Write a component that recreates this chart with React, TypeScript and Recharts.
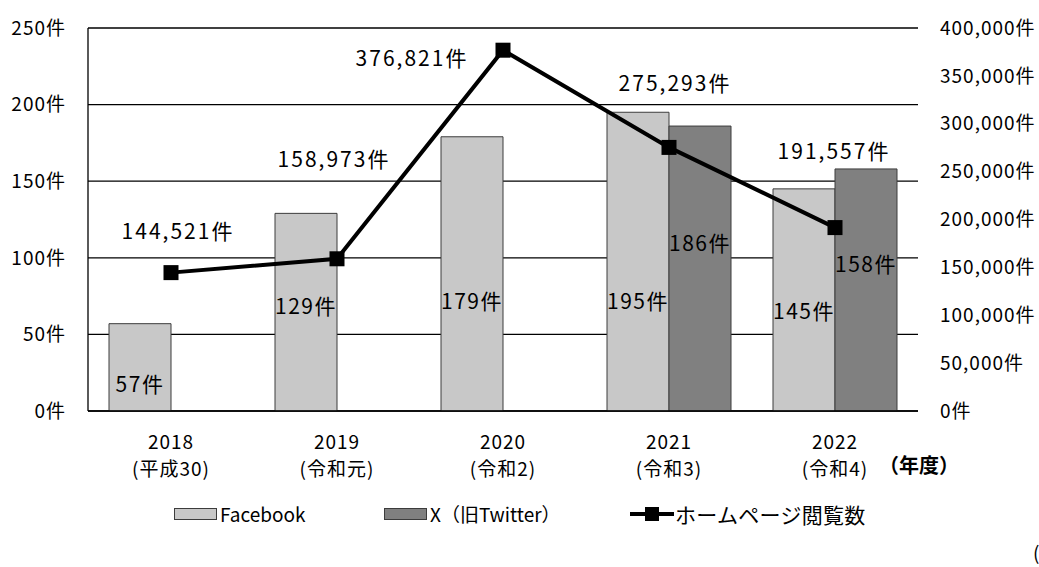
import React from 'react';
import {
  ComposedChart,
  Bar,
  Line,
  XAxis,
  YAxis,
  CartesianGrid,
  LabelList,
} from 'recharts';

// 年度
const years = ['2018', '2019', '2020', '2021', '2022'];
const eras = ['(平成30)', '(令和元)', '(令和2)', '(令和3)', '(令和4)'];

// 投稿件数
const facebook = [57, 129, 179, 195, 145];
const xTwitter = [null, null, null, 186, 158];

// ホームページ閲覧数
const pageViews = [144521, 158973, 376821, 275293, 191557];

const leftTicks = [0, 50, 100, 150, 200, 250];
const rightTicks = [0, 50000, 100000, 150000, 200000, 250000, 300000, 350000, 400000];

const FONT = "'Noto Sans CJK JP', 'Noto Sans', sans-serif";
const FB_FILL = '#c8c8c8';
const X_FILL = '#808080';
const BAR_STROKE = '#3c3c3c';

// label nudges (px) relative to the default anchor, per year
const fbLabelDy = [16, -7, 26, 38, 10];
const xLabelDy = [0, 0, 0, -27, -27];
const lineLabelDx = [7, -3, -91, 6, -1];
const lineLabelDy = [-43, -101, 7, -65, -78];

const chartData = years.map((year, i) => ({
  year,
  era: eras[i],
  facebook: facebook[i],
  x: xTwitter[i],
  views: pageViews[i],
}));

// recharts skips null bars, so find the year from the value itself
const barLabel = (series: (number | null)[], dys: number[]) => (props: any) => {
  const { x, y, width, height, value } = props;
  if (value == null) return null;
  const i = series.indexOf(Number(value));
  return (
    <text
      x={Number(x) + Number(width) / 2}
      y={Number(y) + Number(height) / 2 + (dys[i] ?? 0)}
      textAnchor="middle"
      dominantBaseline="central"
      fontSize={21}
      letterSpacing={1.5}
      fontFamily={FONT}
      fill="#000"
    >
      {`${value}件`}
    </text>
  );
};

const lineLabel = (props: any) => {
  const { x, y, value } = props;
  const i = pageViews.indexOf(Number(value));
  return (
    <text
      x={Number(x) + lineLabelDx[i]}
      y={Number(y) + lineLabelDy[i]}
      textAnchor="middle"
      dominantBaseline="central"
      fontSize={21}
      letterSpacing={2}
      fontFamily={FONT}
      fill="#000"
    >
      {`${Number(value).toLocaleString('en-US')}件`}
    </text>
  );
};

const SquareDot = (props: any) => {
  const { cx, cy } = props;
  if (cx == null || cy == null) return null;
  return <rect x={cx - 7.5} y={cy - 7.5} width={15} height={15} fill="#000" />;
};

const YearTick = (props: any) => {
  const { x, y, payload, index } = props;
  const common = {
    x,
    textAnchor: 'middle' as const,
    dominantBaseline: 'central' as const,
    fontSize: 19,
    letterSpacing: 1,
    fontFamily: FONT,
    fill: '#000',
  };
  return (
    <g>
      <text {...common} y={y + 21}>
        {payload.value}
      </text>
      <text {...common} y={y + 48}>
        {eras[index]}
      </text>
    </g>
  );
};

const swatch = (fill: string) => (
  <span
    style={{
      display: 'inline-block',
      width: 41,
      height: 10,
      background: fill,
      border: `1px solid ${BAR_STROKE}`,
      marginRight: 3,
    }}
  />
);

const tickStyle = { fill: '#000', fontSize: 19, letterSpacing: 1, fontFamily: FONT };

export default function App() {
  return (
    <div
      style={{
        position: 'absolute',
        left: 0,
        top: 0,
        width: 1039,
        height: 567,
        background: '#fff',
        fontFamily: FONT,
      }}
    >
      <ComposedChart
        width={1039}
        height={567}
        data={chartData}
        margin={{ top: 28, right: 8, left: 8, bottom: 96 }}
        barSize={62}
        barGap={0}
      >
        <CartesianGrid yAxisId="left" vertical={false} stroke="#000" strokeWidth={1.3} />
        <XAxis
          dataKey="year"
          axisLine={{ stroke: '#000', strokeWidth: 1.3 }}
          tickLine={false}
          tick={<YearTick />}
          height={60}
          interval={0}
        />
        <YAxis
          yAxisId="left"
          domain={[0, 250]}
          ticks={leftTicks}
          tickFormatter={(v) => `${v}件`}
          axisLine={{ stroke: '#000', strokeWidth: 1.3 }}
          tickLine={false}
          tickSize={0}
          tickMargin={22}
          width={80}
          tick={tickStyle}
        />
        <YAxis
          yAxisId="right"
          orientation="right"
          domain={[0, 400000]}
          ticks={rightTicks}
          tickFormatter={(v) => `${Number(v).toLocaleString('en-US')}件`}
          axisLine={false}
          tickLine={false}
          tickSize={0}
          tickMargin={22}
          width={113}
          tick={tickStyle}
        />
        <Bar
          yAxisId="left"
          dataKey="facebook"
          name="Facebook"
          fill={FB_FILL}
          stroke={BAR_STROKE}
          strokeWidth={1}
          isAnimationActive={false}
        >
          <LabelList dataKey="facebook" content={barLabel(facebook, fbLabelDy)} />
        </Bar>
        <Bar
          yAxisId="left"
          dataKey="x"
          name="X（旧Twitter）"
          fill={X_FILL}
          stroke={BAR_STROKE}
          strokeWidth={1}
          isAnimationActive={false}
        >
          <LabelList dataKey="x" content={barLabel(xTwitter, xLabelDy)} />
        </Bar>
        <Line
          yAxisId="right"
          dataKey="views"
          name="ホームページ閲覧数"
          stroke="#000"
          strokeWidth={4}
          dot={<SquareDot />}
          activeDot={false}
          isAnimationActive={false}
        >
          <LabelList dataKey="views" content={lineLabel} />
        </Line>
      </ComposedChart>

      <div
        style={{
          position: 'absolute',
          left: 879,
          top: 450,
          fontSize: 20,
          fontWeight: 'bold',
          whiteSpace: 'nowrap',
        }}
      >
        （年度）
      </div>

      <div style={{ position: 'absolute', left: 174, top: 500, fontSize: 19, display: 'flex', alignItems: 'center' }}>
        {swatch(FB_FILL)}
        <span>Facebook</span>
      </div>
      <div style={{ position: 'absolute', left: 384, top: 500, fontSize: 19, display: 'flex', alignItems: 'center' }}>
        {swatch(X_FILL)}
        <span>X（旧Twitter）</span>
      </div>
      <div style={{ position: 'absolute', left: 630, top: 499, fontSize: 21, display: 'flex', alignItems: 'center' }}>
        <svg width={44} height={16} style={{ marginRight: 1 }}>
          <line x1={0} y1={8} x2={44} y2={8} stroke="#000" strokeWidth={4} />
          <rect x={15} y={1} width={14} height={14} fill="#000" />
        </svg>
        <span style={{ letterSpacing: 0.3 }}>ホームページ閲覧数</span>
      </div>

      <div style={{ position: 'absolute', left: 1033, top: 538, fontSize: 19 }}>(</div>
    </div>
  );
}
